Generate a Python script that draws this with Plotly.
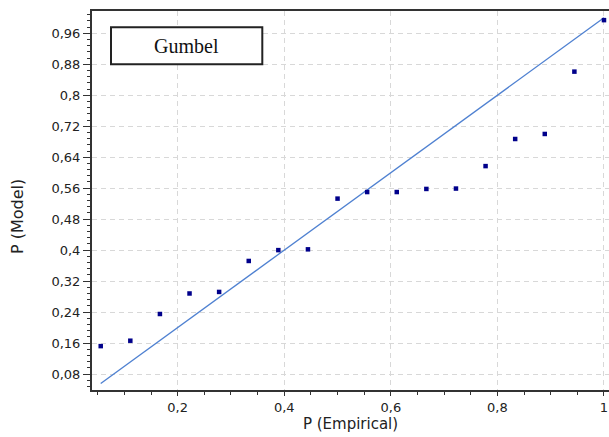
import plotly.graph_objects as go

# Empirical plotting positions i/18 and the Gumbel model probabilities
p_empirical = [1/18, 2/18, 3/18, 4/18, 5/18, 6/18, 7/18, 8/18, 9/18,
               10/18, 11/18, 12/18, 13/18, 14/18, 15/18, 16/18, 17/18, 18/18]
p_model = [0.152, 0.166, 0.235, 0.288, 0.292, 0.372, 0.400, 0.402, 0.533,
           0.550, 0.550, 0.558, 0.559, 0.617, 0.687, 0.700, 0.861, 0.994]

# 1:1 reference line across the empirical range
diag = [p_empirical[0], p_empirical[-1]]

y_tickvals = [0.08, 0.16, 0.24, 0.32, 0.40, 0.48, 0.56, 0.64, 0.72, 0.80, 0.88, 0.96]
y_ticktext = ["0,08", "0,16", "0,24", "0,32", "0,4", "0,48", "0,56", "0,64",
              "0,72", "0,8", "0,88", "0,96"]
x_tickvals = [0.2, 0.4, 0.6, 0.8, 1.0]
x_ticktext = ["0,2", "0,4", "0,6", "0,8", "1"]

tick_font = dict(family="DejaVu Sans", size=13, color="#222222")
axis_col = "#333333"
grid_col = "#d8d8d8"

fig = go.Figure()
fig.add_trace(go.Scatter(
    x=diag, y=diag, mode="lines",
    line=dict(color="#4f81d1", width=1.3),
    showlegend=False, hoverinfo="skip",
))
fig.add_trace(go.Scatter(
    x=p_empirical, y=p_model, mode="markers",
    marker=dict(symbol="square", size=4.5, color="#00008b"),
    showlegend=False,
))

fig.update_layout(
    width=609, height=437,
    margin=dict(l=92, r=0, t=11, b=47),
    paper_bgcolor="white", plot_bgcolor="white",
    xaxis=dict(
        range=[0.0392, 1.0094],
        tickvals=x_tickvals, ticktext=x_ticktext,
        tickfont=tick_font,
        ticks="outside", ticklen=4, tickwidth=1, tickcolor=axis_col,
        minor=dict(dtick=0.05, tick0=0, ticks="outside", ticklen=3,
                   tickcolor=axis_col, showgrid=False),
        showline=True, linecolor=axis_col, linewidth=2, mirror=True,
        showgrid=True, gridcolor=grid_col, gridwidth=1, griddash="5px,4px",
        zeroline=False,
        title=dict(text="P (Empirical)",
                   font=dict(family="DejaVu Sans", size=15, color="#222222"),
                   standoff=4),
    ),
    yaxis=dict(
        range=[0.0387, 1.0176],
        tickvals=y_tickvals, ticktext=y_ticktext,
        tickfont=tick_font,
        ticks="outside", ticklen=7, tickwidth=1, tickcolor=axis_col,
        minor=dict(dtick=0.016, tick0=0, ticks="outside", ticklen=3,
                   tickcolor=axis_col, showgrid=False),
        showline=True, linecolor=axis_col, linewidth=2, mirror=False,
        showgrid=True, gridcolor=grid_col, gridwidth=1, griddash="5px,4px",
        zeroline=False,
    ),
    annotations=[
        dict(text="P (Model)", textangle=-90, xref="paper", yref="paper",
             x=(17 - 92) / 517, y=(390 - 217) / 379,
             xanchor="center", yanchor="middle", showarrow=False,
             font=dict(family="DejaVu Sans", size=16, color="#222222")),
        dict(text="Gumbel", xref="paper", yref="paper",
             x=(186.7 - 92) / 517, y=(390 - 45.8) / 379,
             xanchor="center", yanchor="middle", showarrow=False,
             font=dict(family="Liberation Serif", size=20, color="#111111")),
    ],
    shapes=[
        dict(type="rect", xref="paper", yref="paper",
             x0=(111 - 92) / 517, x1=(262.3 - 92) / 517,
             y0=(390 - 64.3) / 379, y1=(390 - 27.3) / 379,
             line=dict(color="#222222", width=2), fillcolor="white", layer="above"),
    ],
)

fig.write_html("out.html")
